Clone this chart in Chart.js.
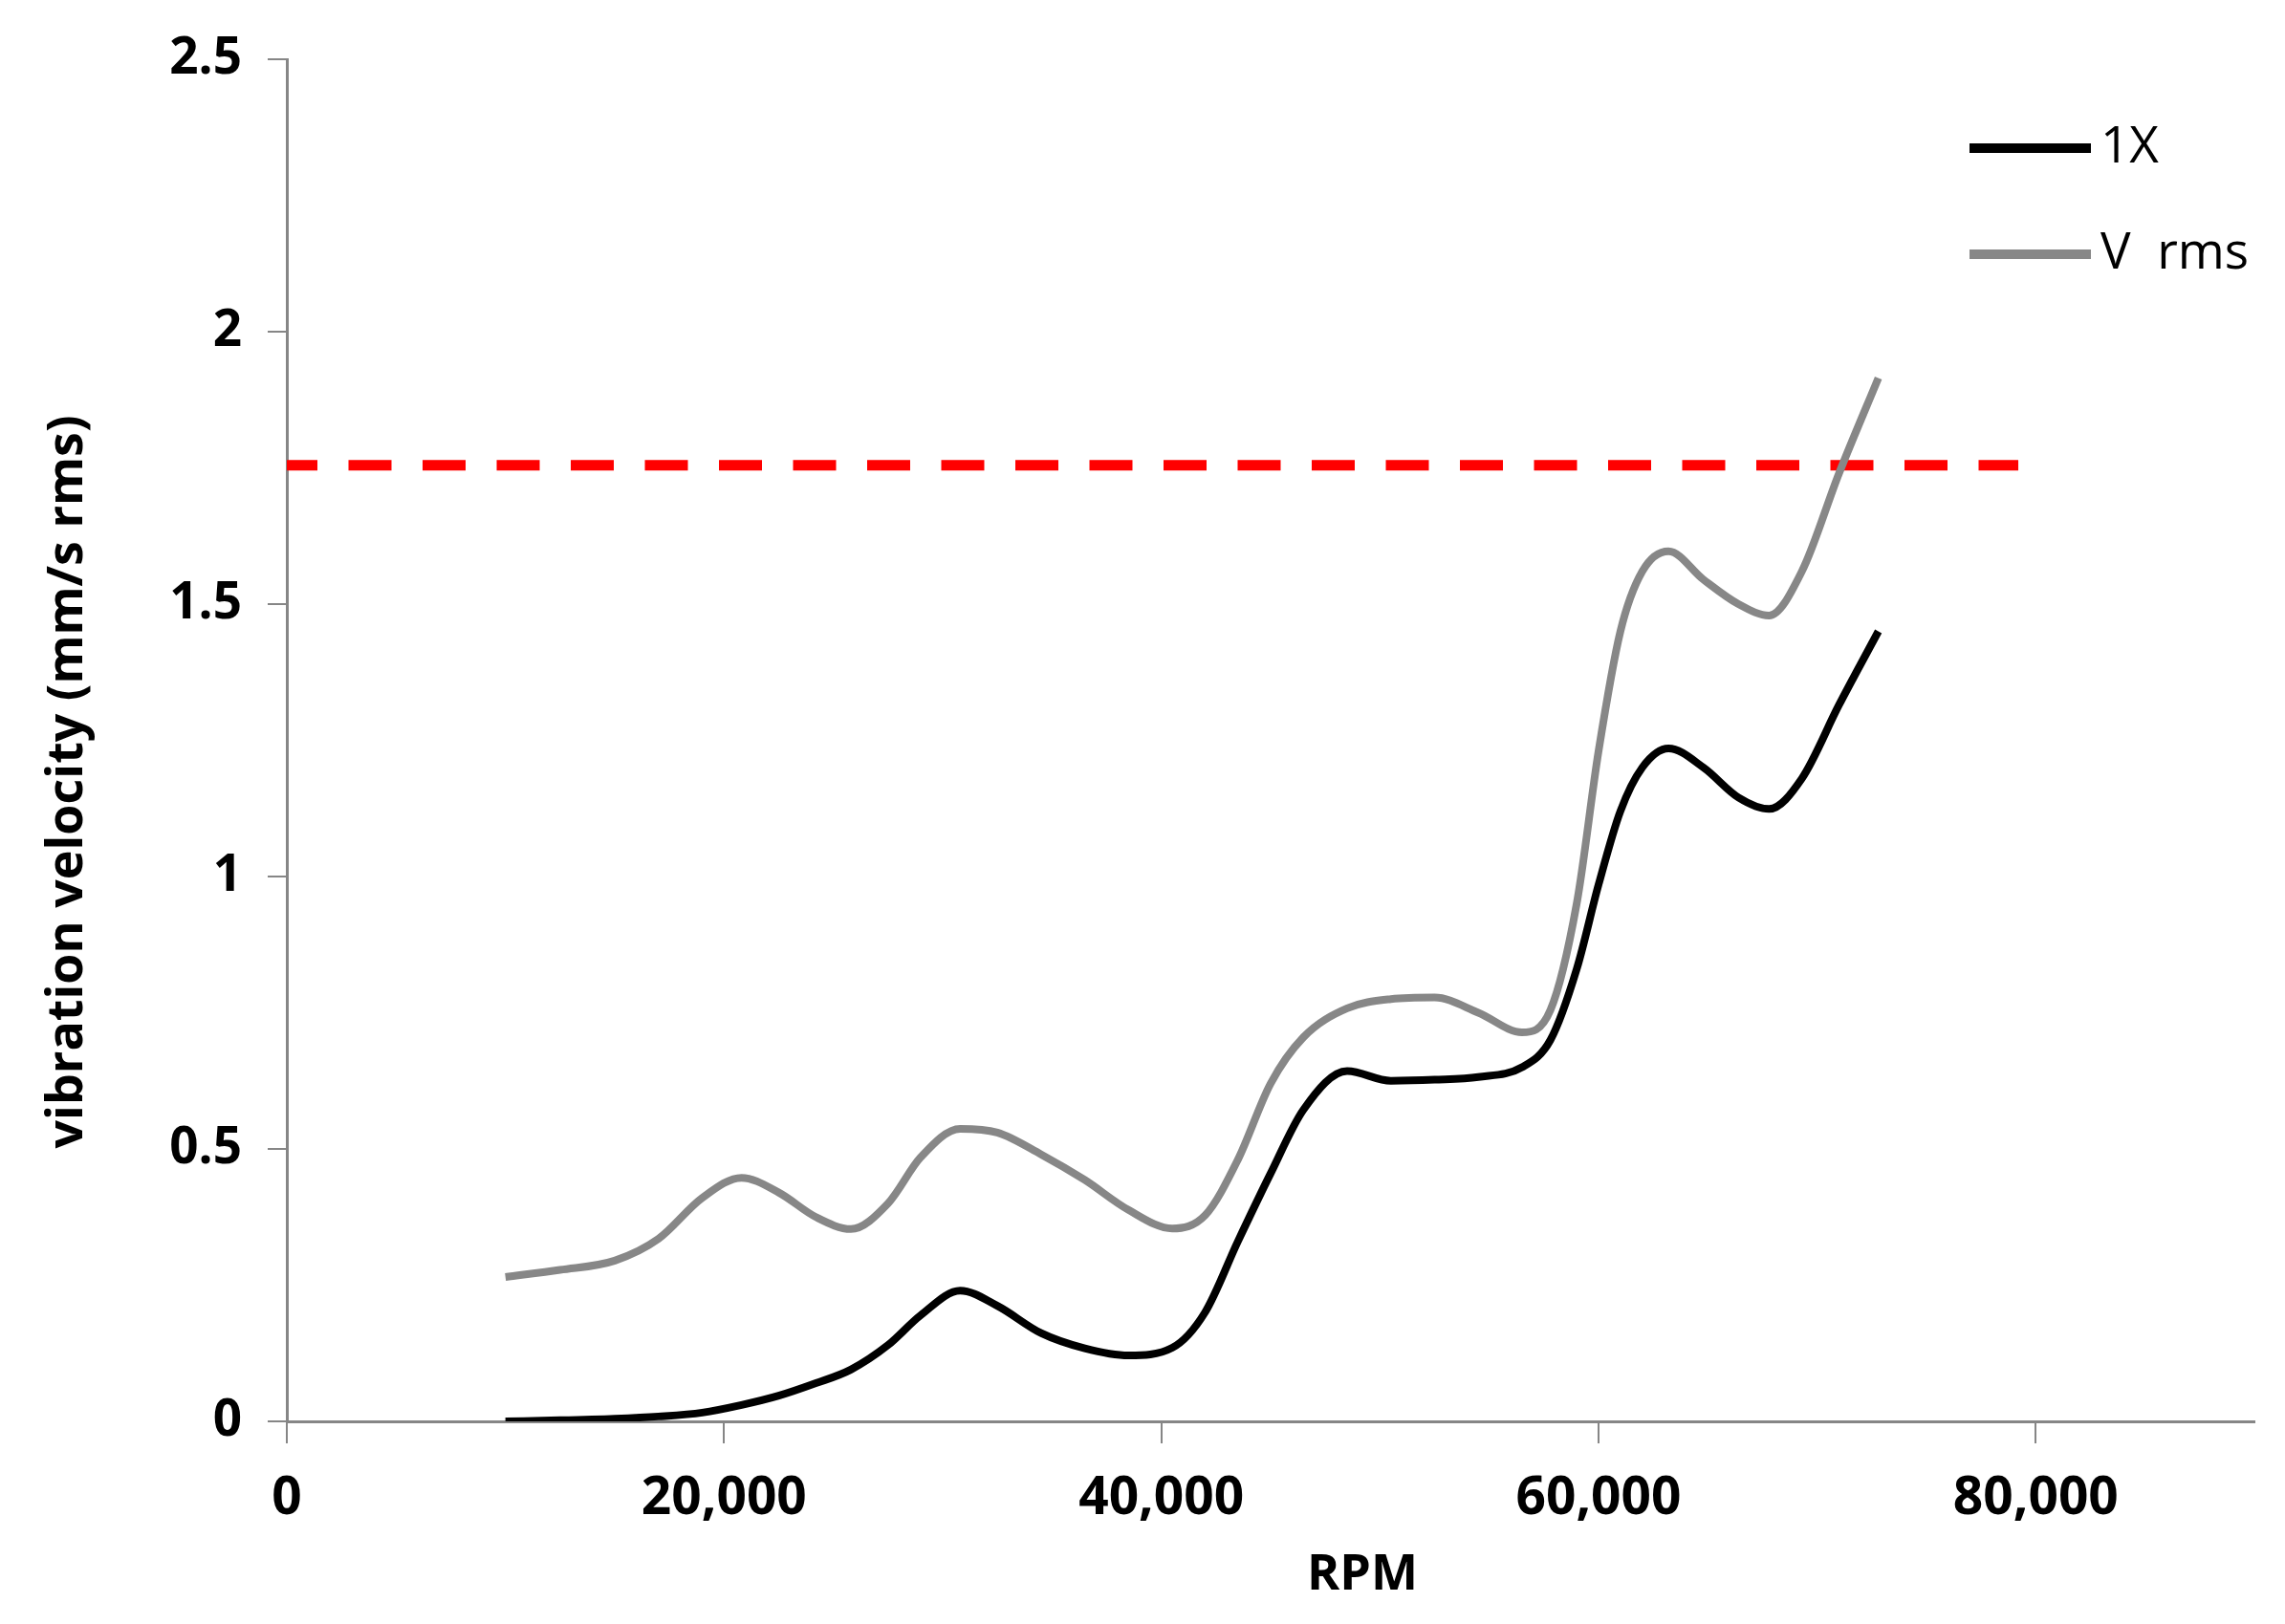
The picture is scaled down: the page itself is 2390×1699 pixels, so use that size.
<!DOCTYPE html>
<html>
<head>
<meta charset="utf-8">
<script src="https://cdn.jsdelivr.net/npm/chart.js@4.4.1/dist/chart.umd.min.js"></script>
<style>
  html, body { margin: 0; padding: 0; background: #fff; }
  canvas { display: block; }
</style>
</head>
<body>
<canvas id="vibChart" width="2390" height="1699"></canvas>
<script>
// RPM (eje X)
const rpm = [10000, 12500, 15000, 17000, 19000, 20800, 22500, 24200, 25800, 27500,
             29000, 30800, 32500, 34500, 36500, 38500, 40500, 42000, 43500, 45000,
             46500, 48500, 50500, 52500, 54500, 56500, 57800, 59000, 60000, 61000,
             62000, 63200, 64800, 66400, 67800, 69300, 71000, 72800];

// 1X (linea negra)
const oneX = [0, 0.002, 0.005, 0.009, 0.016, 0.03, 0.047, 0.07, 0.095, 0.14,
              0.195, 0.24, 0.212, 0.162, 0.134, 0.121, 0.135, 0.2, 0.33, 0.455,
              0.572, 0.643, 0.625, 0.627, 0.632, 0.65, 0.70, 0.83, 0.985, 1.12,
              1.2, 1.235, 1.2, 1.145, 1.124, 1.18, 1.315, 1.45];

// V rms (linea gris)
const vRms = [0.265, 0.278, 0.295, 0.335, 0.41, 0.447, 0.42, 0.375, 0.353, 0.40,
              0.485, 0.537, 0.53, 0.49, 0.443, 0.388, 0.354, 0.378, 0.48, 0.62,
              0.705, 0.758, 0.775, 0.778, 0.75, 0.714, 0.755, 0.95, 1.23, 1.45,
              1.56, 1.597, 1.545, 1.5, 1.479, 1.56, 1.74, 1.915];

// limite (linea roja discontinua)
const limitRpm = [0, 79200];
const limitValue = 1.755;

const seriesNames = ['1X', 'V  rms'];
const xTicks = [0, 20000, 40000, 60000, 80000];
const xTitle = 'RPM';
const yTitle = 'vibration velocity (mm/s rms)';

const toPoints = (xs, ys) => xs.map((x, i) => ({ x: x, y: ys[i] }));

const axisGray = '#868686';

// Leyenda dentro del area del grafico (arriba a la derecha)
const insideLegend = {
    id: 'insideLegend',
    afterDraw(chart, args, opts) {
        const ctx = chart.ctx;
        ctx.save();
        let row = 0;
        chart.data.datasets.forEach(ds => {
            if (!ds.inLegend) return;
            const y = opts.y + row * opts.rowGap;
            ctx.strokeStyle = ds.borderColor;
            ctx.lineWidth = opts.lineWidth;
            ctx.beginPath();
            ctx.moveTo(opts.x, y);
            ctx.lineTo(opts.x + opts.lineLength, y);
            ctx.stroke();
            ctx.fillStyle = '#000';
            ctx.font = opts.font;
            ctx.textBaseline = 'middle';
            ctx.textAlign = 'left';
            ctx.fillText(ds.label, opts.x + opts.lineLength + opts.textGap, y);
            row++;
        });
        ctx.restore();
    }
};

// Titulos de los ejes (no estan centrados en el eje en el original)
const axisTitles = {
    id: 'axisTitles',
    afterDraw(chart, args, opts) {
        const ctx = chart.ctx;
        ctx.save();
        ctx.fillStyle = '#000';
        ctx.font = opts.font;
        ctx.textAlign = 'center';
        ctx.textBaseline = 'middle';
        ctx.fillText(opts.xText, opts.xAt[0], opts.xAt[1]);
        ctx.translate(opts.yAt[0], opts.yAt[1]);
        ctx.rotate(-Math.PI / 2);
        ctx.fillText(opts.yText, 0, 0);
        ctx.restore();
    }
};

new Chart(document.getElementById('vibChart'), {
    type: 'line',
    data: {
        datasets: [{
            label: seriesNames[0],
            data: toPoints(rpm, oneX),
            borderColor: '#000000',
            borderWidth: 8,
            pointRadius: 0,
            cubicInterpolationMode: 'monotone',
            inLegend: true,
        }, {
            label: seriesNames[1],
            data: toPoints(rpm, vRms),
            borderColor: '#878787',
            borderWidth: 8,
            pointRadius: 0,
            cubicInterpolationMode: 'monotone',
            inLegend: true,
        }, {
            label: 'limit',
            data: limitRpm.map(x => ({ x: x, y: limitValue })),
            borderColor: '#ff0000',
            borderWidth: 11,
            borderDash: [45, 32.5],
            borderDashOffset: 13,
            borderCapStyle: 'butt',
            pointRadius: 0,
            tension: 0,
        }]
    },
    options: {
        responsive: false,
        animation: false,
        devicePixelRatio: 1,
        layout: { padding: { top: 62, right: 32, left: 0, bottom: 0 } },
        plugins: {
            legend: { display: false },
            tooltip: { enabled: false },
            insideLegend: {
                x: 2060, y: 155, rowGap: 111,
                lineLength: 127, lineWidth: 10, textGap: 10,
                font: '53px "Open Sans"'
            },
            axisTitles: {
                font: 'bold 52px "Open Sans"',
                xText: xTitle, xAt: [1425, 1648],
                yText: yTitle, yAt: [71, 818]
            }
        },
        scales: {
            x: {
                type: 'linear',
                min: 0,
                max: 90000,
                afterBuildTicks: (scale) => {
                    scale.ticks = xTicks.concat([90000]).map(v => ({ value: v }));
                },
                ticks: {
                    color: '#000',
                    font: { family: 'Open Sans', weight: 'bold', size: 55 },
                    padding: 25,
                    maxRotation: 0,
                    callback: (value) => xTicks.includes(value) ? value.toLocaleString('en-US') : '',
                },
                grid: {
                    drawOnChartArea: false,
                    drawTicks: true,
                    tickLength: 23,
                    lineWidth: 2,
                    color: (c) => (c.tick && c.tick.value === 90000) ? 'rgba(0,0,0,0)' : axisGray,
                },
                border: { color: axisGray, width: 3 },
                afterFit: (scale) => { scale.height = 212; }
            },
            y: {
                min: 0,
                max: 2.5,
                ticks: {
                    stepSize: 0.5,
                    color: '#000',
                    font: { family: 'Open Sans', weight: 'bold', size: 53 },
                    padding: 27,
                    callback: (value) => String(value),
                },
                grid: {
                    drawOnChartArea: false,
                    drawTicks: true,
                    tickLength: 20,
                    lineWidth: 2,
                    color: axisGray,
                },
                border: { color: axisGray, width: 3 },
                afterFit: (scale) => { scale.width = 300; }
            }
        }
    },
    plugins: [insideLegend, axisTitles]
});
</script>
</body>
</html>
